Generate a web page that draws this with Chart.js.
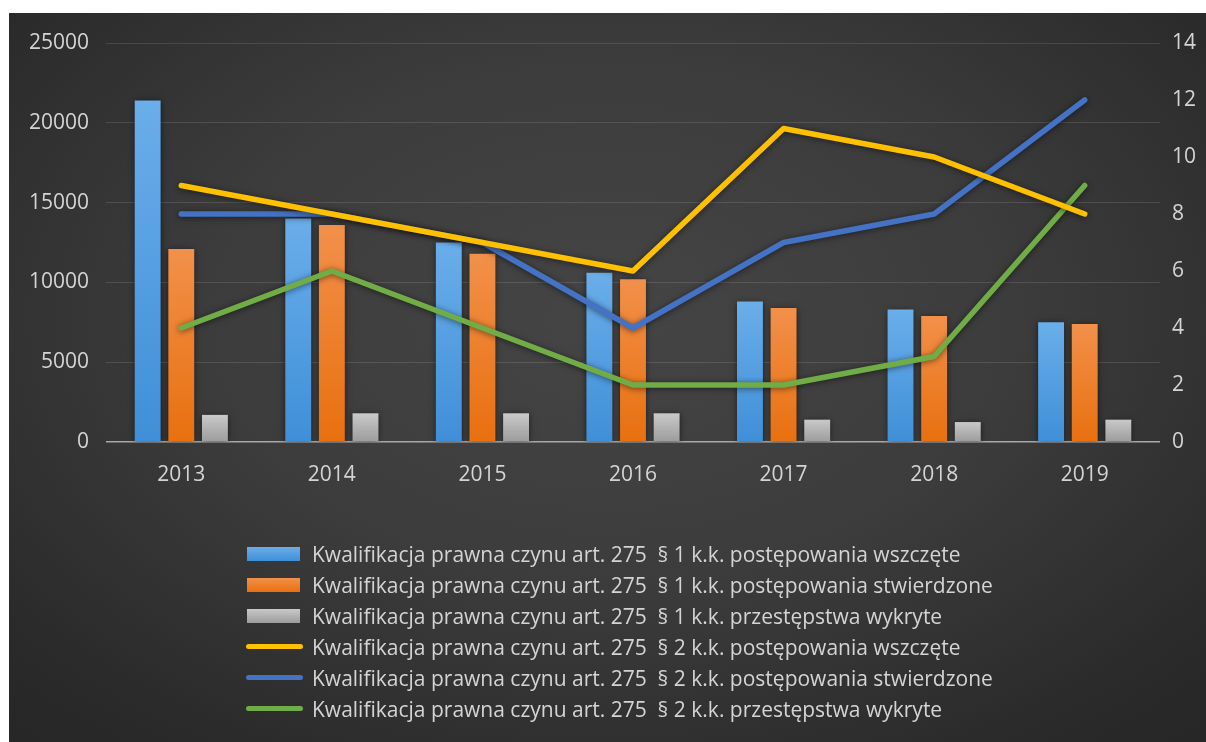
<!DOCTYPE html>
<html lang="pl">
<head>
<meta charset="utf-8">
<title>Kwalifikacja prawna czynu art. 275 k.k.</title>
<script src="https://cdn.jsdelivr.net/npm/chart.js@4.4.1/dist/chart.umd.min.js"></script>
<style>
  html, body { margin: 0; padding: 0; background: #ffffff; }
  body { width: 1206px; height: 742px; position: relative; overflow: hidden; }
  #panel {
    position: absolute; left: 9px; top: 13px; width: 1197px; height: 729px;
    background: radial-gradient(ellipse 75% 80% at 50% 42%, #454545 0%, #3c3c3c 45%, #2a2a2a 85%, #262626 100%);
  }
  #chartBox { position: absolute; left: 0; top: 0; width: 1197px; height: 729px; }
  #legend {
    position: absolute; left: 236px; top: 525px;
    font-family: "Open Sans", sans-serif; font-size: 21px; color: #d4d4d4;
  }
  .item { height: 31px; display: flex; align-items: center; white-space: nowrap; }
  .key { width: 58px; height: 31px; position: relative; margin-right: 9px; flex: none; }
  .key .box { position: absolute; left: 2px; top: 9px; width: 53px; height: 14px; }
  .key .line { position: absolute; left: 1px; top: 13px; width: 57px; height: 5px; border-radius: 3px; }
</style>
</head>
<body>
<div id="panel">
  <div id="chartBox"><canvas id="chart"></canvas></div>
  <div id="legend"></div>
</div>
<script>
// Lata
const years = ['2013', '2014', '2015', '2016', '2017', '2018', '2019'];

// art. 275 § 1 k.k. (lewa oś)
const p1Wszczete    = [21400, 14000, 12500, 10600, 8800, 8300, 7500];
const p1Stwierdzone = [12100, 13600, 11800, 10200, 8400, 7900, 7400];
const p1Wykryte     = [1700, 1800, 1800, 1800, 1400, 1250, 1400];

// art. 275 § 2 k.k. (prawa oś)
const p2Wszczete    = [9, 8, 7, 6, 11, 10, 8];
const p2Stwierdzone = [8, 8, 7, 4, 7, 8, 12];
const p2Wykryte     = [4, 6, 4, 2, 2, 3, 9];

const seriesNames = [
  'Kwalifikacja prawna czynu art. 275 \u00a0§ 1 k.k. postępowania wszczęte',
  'Kwalifikacja prawna czynu art. 275 \u00a0§ 1 k.k. postępowania stwierdzone',
  'Kwalifikacja prawna czynu art. 275 \u00a0§ 1 k.k. przestępstwa wykryte',
  'Kwalifikacja prawna czynu art. 275 \u00a0§ 2 k.k. postępowania wszczęte',
  'Kwalifikacja prawna czynu art. 275 \u00a0§ 2 k.k. postępowania stwierdzone',
  'Kwalifikacja prawna czynu art. 275 \u00a0§ 2 k.k. przestępstwa wykryte'
];

const FONT = '"Open Sans", sans-serif';
const TEXT = '#d4d4d4';

// Każdy słupek dostaje własny gradient od wierzchołka do osi
function barFill(top, bottom) {
  return (c) => {
    const chart = c.chart;
    if (c.type !== 'data' || !chart.chartArea || !chart.scales.y) return bottom;
    const sy = chart.scales.y;
    const yTop = sy.getPixelForValue(c.raw);
    const yBase = sy.getPixelForValue(0);
    if (!isFinite(yTop) || !isFinite(yBase) || yTop === yBase) return bottom;
    const g = chart.ctx.createLinearGradient(0, yTop, 0, yBase);
    g.addColorStop(0, top);
    g.addColorStop(1, bottom);
    return g;
  };
}

const barColors = [
  ['#6aaeea', '#3f8fd8'],
  ['#f2904a', '#e8700f'],
  ['#c9c9c9', '#9c9c9c']
];
const lineColors = ['#ffc000', '#4472c4', '#70ad47'];

const barSet = (label, data, cols) => ({
  type: 'bar', label, data, yAxisID: 'y', order: 2,
  backgroundColor: barFill(cols[0], cols[1]),
  borderWidth: 0,
  categoryPercentage: 0.67, barPercentage: 0.77
});
const lineSet = (label, data, color) => ({
  type: 'line', label, data, yAxisID: 'y1', order: 1,
  borderColor: color, backgroundColor: color,
  borderWidth: 5.5, pointRadius: 0, pointHoverRadius: 0, tension: 0,
  borderCapStyle: 'round', borderJoinStyle: 'round', fill: false
});

// Miękki cień pod słupkami i liniami
const softShadow = {
  id: 'softShadow',
  beforeDatasetDraw(chart) {
    const ctx = chart.ctx;
    ctx.save();
    ctx.shadowColor = 'rgba(0,0,0,0.55)';
    ctx.shadowBlur = 6;
    ctx.shadowOffsetX = 0;
    ctx.shadowOffsetY = 1;
  },
  afterDatasetDraw(chart) { chart.ctx.restore(); }
};

const plain = (v) => String(v);

const chart = new Chart(document.getElementById('chart'), {
  data: {
    labels: years,
    datasets: [
      barSet(seriesNames[0], p1Wszczete, barColors[0]),
      barSet(seriesNames[1], p1Stwierdzone, barColors[1]),
      barSet(seriesNames[2], p1Wykryte, barColors[2]),
      lineSet(seriesNames[3], p2Wszczete, lineColors[0]),
      lineSet(seriesNames[4], p2Stwierdzone, lineColors[1]),
      lineSet(seriesNames[5], p2Wykryte, lineColors[2])
    ]
  },
  options: {
    responsive: true,
    maintainAspectRatio: false,
    animation: false,
    layout: { padding: { top: 30, left: 0, right: 0, bottom: 0 } },
    plugins: { legend: { display: false }, tooltip: { enabled: false } },
    scales: {
      x: {
        grid: { display: false },
        border: { display: false },
        ticks: { color: TEXT, font: { family: FONT, size: 21 }, padding: 12, maxRotation: 0 },
        afterFit(s) { s.height = 300; }
      },
      y: {
        position: 'left', min: 0, max: 25000,
        ticks: { stepSize: 5000, color: TEXT, font: { family: FONT, size: 21 }, padding: 17, callback: plain },
        grid: {
          drawTicks: false,
          color: (c) => c.tick && c.tick.value === 0 ? '#a8a8a8' : 'rgba(255,255,255,0.12)',
          lineWidth: (c) => c.tick && c.tick.value === 0 ? 1.6 : 1
        },
        border: { display: false },
        afterFit(s) { s.width = 97; }
      },
      y1: {
        position: 'right', min: 0, max: 14,
        ticks: { stepSize: 2, color: TEXT, font: { family: FONT, size: 21 }, padding: 12, callback: plain },
        grid: { display: false, drawTicks: false },
        border: { display: false },
        afterFit(s) { s.width = 46; }
      }
    }
  },
  plugins: [softShadow]
});

// Legenda w jednej kolumnie, wyrównana do lewej
const legendEl = document.getElementById('legend');
chart.data.datasets.forEach((ds, i) => {
  const row = document.createElement('div');
  row.className = 'item';
  const key = document.createElement('span');
  key.className = 'key';
  const mark = document.createElement('span');
  if (ds.type === 'bar') {
    mark.className = 'box';
    const cols = barColors[i];
    mark.style.background = 'linear-gradient(' + cols[0] + ',' + cols[1] + ')';
  } else {
    mark.className = 'line';
    mark.style.background = ds.borderColor;
  }
  key.appendChild(mark);
  const txt = document.createElement('span');
  txt.textContent = ds.label;
  row.appendChild(key);
  row.appendChild(txt);
  legendEl.appendChild(row);
});
</script>
</body>
</html>
